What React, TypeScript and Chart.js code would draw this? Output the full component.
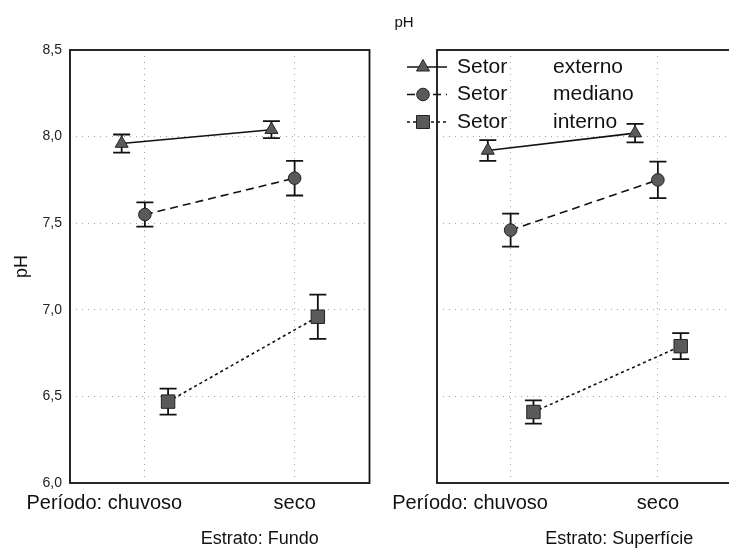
import React, { useEffect, useRef } from "react";
import { Chart, registerables } from "chart.js";

Chart.register(...registerables);

// ---------- data ----------
const periods = ["chuvoso", "seco"];
const periodPrefix = "Período: ";
const strata = ["Estrato: Fundo", "Estrato: Superfície"];
const sectorWord = "Setor";
const sectors = ["externo", "mediano", "interno"];
const yTickValues = [6.0, 6.5, 7.0, 7.5, 8.0, 8.5];
const chartTitle = "pH";
const yTitle = "pH";

// Estrato: Fundo (means, half error bars)
const fundoExterno = [7.96, 8.04];
const fundoExternoErr = [0.052, 0.049];
const fundoMediano = [7.55, 7.76];
const fundoMedianoErr = [0.07, 0.1];
const fundoInterno = [6.47, 6.96];
const fundoInternoErr = [0.075, 0.128];

// Estrato: Superfície
const superficieExterno = [7.92, 8.02];
const superficieExternoErr = [0.06, 0.053];
const superficieMediano = [7.46, 7.75];
const superficieMedianoErr = [0.095, 0.105];
const superficieInterno = [6.41, 6.79];
const superficieInternoErr = [0.067, 0.075];

// ---------- styles ----------
const FONT = "'Liberation Sans', Arial, sans-serif";
const INK = "#111";
const sectorOffsets = [-0.155, 0, 0.155];
const sectorMarkers = ["triangle", "circle", "rect"];
const sectorRadius = [7.5, 6.3, 9.5];
const sectorDashes: number[][] = [[], [8, 5], [3, 3]];

type PanelSpec = {
  means: number[][];
  errs: number[][];
  label: string;
  first: boolean;
  labelShift: number;
};

function makeConfig(p: PanelSpec): any {
  const datasets = sectors.map((s, k) => ({
    label: s,
    data: periods.map((_, i) => ({ x: i + sectorOffsets[k], y: p.means[k][i] })),
    showLine: true,
    borderColor: INK,
    borderWidth: 1.6,
    borderDash: sectorDashes[k],
    pointStyle: sectorMarkers[k],
    pointRadius: sectorRadius[k],
    pointBackgroundColor: "#5a5a5a",
    pointBorderColor: "#222",
    pointBorderWidth: 1,
    fill: false,
  }));

  const panelPlugin = {
    id: "panelDecor",
    beforeDatasetsDraw(chart: any) {
      const ctx = chart.ctx;
      const xs = chart.scales.x;
      const ys = chart.scales.y;
      ctx.save();
      ctx.strokeStyle = INK;
      ctx.lineWidth = 1.8;
      ctx.setLineDash([]);
      sectors.forEach((_, k) => {
        periods.forEach((__, i) => {
          const x = xs.getPixelForValue(i + sectorOffsets[k]);
          const yHi = ys.getPixelForValue(p.means[k][i] + p.errs[k][i]);
          const yLo = ys.getPixelForValue(p.means[k][i] - p.errs[k][i]);
          ctx.beginPath();
          ctx.moveTo(x, yHi);
          ctx.lineTo(x, yLo);
          ctx.moveTo(x - 8.5, yHi);
          ctx.lineTo(x + 8.5, yHi);
          ctx.moveTo(x - 8.5, yLo);
          ctx.lineTo(x + 8.5, yLo);
          ctx.stroke();
        });
      });
      ctx.restore();
    },
    afterDraw(chart: any) {
      const ctx = chart.ctx;
      const a = chart.chartArea;
      const xs = chart.scales.x;
      ctx.save();
      // frame
      ctx.strokeStyle = INK;
      ctx.lineWidth = 1.8;
      ctx.strokeRect(a.left, a.top, a.right - a.left, a.bottom - a.top);
      // category labels
      ctx.fillStyle = INK;
      ctx.font = `20px ${FONT}`;
      ctx.textBaseline = "middle";
      ctx.textAlign = "center";
      const ly = a.bottom + 20;
      periods.forEach((per, i) => {
        ctx.fillText(per, xs.getPixelForValue(i), ly);
      });
      const w0 = ctx.measureText(periods[0]).width;
      ctx.textAlign = "right";
      ctx.fillText(periodPrefix, xs.getPixelForValue(0) - w0 / 2, ly);
      // stratum label
      ctx.textAlign = "center";
      ctx.font = `18px ${FONT}`;
      ctx.fillText(p.label, (a.left + a.right) / 2 + p.labelShift, a.bottom + 56);
      if (!p.first) {
        // top title, centred in the gap between the panels
        ctx.font = `15px ${FONT}`;
        ctx.fillText(chartTitle, a.left - 33, 23);
        // legend
        ctx.font = `21px ${FONT}`;
        ctx.textAlign = "left";
        sectors.forEach((s, k) => {
          const y = a.top + 17 + k * 27.5;
          const cx = a.left - 14;
          ctx.strokeStyle = INK;
          ctx.lineWidth = 1.6;
          ctx.setLineDash(sectorDashes[k]);
          ctx.beginPath();
          ctx.moveTo(a.left - 30, y);
          ctx.lineTo(a.left + 10, y);
          ctx.stroke();
          ctx.setLineDash([]);
          ctx.fillStyle = "#5a5a5a";
          ctx.strokeStyle = "#222";
          ctx.lineWidth = 1;
          ctx.beginPath();
          if (k === 0) {
            ctx.moveTo(cx, y - 7.5);
            ctx.lineTo(cx + 6.5, y + 4);
            ctx.lineTo(cx - 6.5, y + 4);
            ctx.closePath();
          } else if (k === 1) {
            ctx.arc(cx, y, 6.3, 0, Math.PI * 2);
          } else {
            ctx.rect(cx - 6.5, y - 6.5, 13, 13);
          }
          ctx.fill();
          ctx.stroke();
          ctx.fillStyle = INK;
          ctx.fillText(sectorWord, a.left + 20, y);
          ctx.fillText(s, a.left + 116, y);
        });
      }
      ctx.restore();
    },
  };

  return {
    type: "scatter",
    data: { datasets },
    plugins: [panelPlugin],
    options: {
      animation: false,
      responsive: false,
      events: [],
      layout: { padding: { top: 50, right: p.first ? 8 : 3, left: 0, bottom: 0 } },
      plugins: { legend: { display: false }, tooltip: { enabled: false } },
      scales: {
        x: {
          type: "linear",
          min: -0.5,
          max: 1.5,
          afterBuildTicks: (s: any) => {
            s.ticks = periods.map((_, i) => ({ value: i }));
          },
          afterFit: (s: any) => {
            s.height = 71;
          },
          ticks: { display: false },
          grid: { color: "#a0a0a0", lineWidth: 1, drawTicks: false },
          border: { display: false, dash: [1, 5] },
        },
        y: {
          type: "linear",
          min: 6,
          max: 8.5,
          afterBuildTicks: (s: any) => {
            s.ticks = yTickValues.map((v) => ({ value: v }));
          },
          afterFit: (s: any) => {
            s.width = p.first ? 70 : 57;
          },
          ticks: {
            display: p.first,
            padding: 8,
            color: "#222",
            font: { family: FONT, size: 14 },
            callback: (v: any) => Number(v).toFixed(1).replace(".", ","),
          },
          title: {
            display: p.first,
            text: yTitle,
            color: INK,
            font: { family: FONT, size: 18 },
            padding: { top: 11, bottom: 0 },
          },
          grid: {
            color: (c: any) =>
              c.tick && (c.tick.value === 6 || c.tick.value === 8.5) ? "rgba(0,0,0,0)" : "#a0a0a0",
            lineWidth: 1,
            drawTicks: false,
          },
          border: { display: false, dash: [1, 5] },
        },
      },
    },
  };
}

function Panel(props: { spec: PanelSpec; left: number; width: number }) {
  const ref = useRef<HTMLCanvasElement | null>(null);
  useEffect(() => {
    if (!ref.current) return;
    const chart = new Chart(ref.current, makeConfig(props.spec));
    return () => chart.destroy();
  }, []);
  return (
    <canvas
      ref={ref}
      width={props.width}
      height={554}
      style={{ position: "absolute", left: props.left, top: 0, width: props.width, height: 554 }}
    />
  );
}

export default function App() {
  const fundo: PanelSpec = {
    means: [fundoExterno, fundoMediano, fundoInterno],
    errs: [fundoExternoErr, fundoMedianoErr, fundoInternoErr],
    label: strata[0],
    first: true,
    labelShift: 40,
  };
  const superficie: PanelSpec = {
    means: [superficieExterno, superficieMediano, superficieInterno],
    errs: [superficieExternoErr, superficieMedianoErr, superficieInternoErr],
    label: strata[1],
    first: false,
    labelShift: 35,
  };
  return (
    <div
      style={{
        position: "fixed",
        left: 0,
        top: 0,
        width: 729,
        height: 554,
        overflow: "hidden",
        background: "#fff",
      }}
    >
      <Panel spec={fundo} left={0} width={380} />
      <Panel spec={superficie} left={380} width={362} />
    </div>
  );
}
